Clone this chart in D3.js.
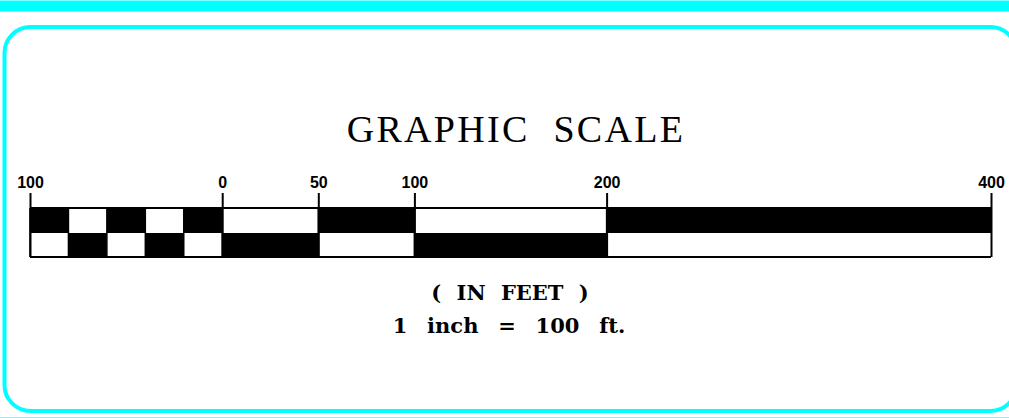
<!DOCTYPE html>
<html>
<head>
<meta charset="utf-8">
<script src="https://cdn.jsdelivr.net/npm/d3@7"></script>
<style>
html,body{margin:0;padding:0;background:#fff;overflow:hidden;}
svg{display:block;}
</style>
</head>
<body>
<svg id="chart" width="1009" height="418"></svg>
<script>
// ---- data ----
const tickValues = [-100, 0, 50, 100, 200, 400];
const tickLabels = ["100", "0", "50", "100", "200", "400"];
const segStarts = [-100, -80, -60, -40, -20, 0, 50, 100, 200];
const segEnds   = [-80, -60, -40, -20, 0, 50, 100, 200, 400];
const topRowBlack = [true, false, true, false, true, false, true, false, true];
const title = "GRAPHIC SCALE";
const unitLine = "( IN FEET )";
const ratioLine = "1 inch = 100 ft.";

const svg = d3.select("#chart");
const cyan = "#00ffff";

// frame
svg.append("rect").attr("x", 0).attr("y", 0.5).attr("width", 1009).attr("height", 11).attr("fill", cyan);
svg.append("rect").attr("x", 4.5).attr("y", 27).attr("width", 1012).attr("height", 384)
  .attr("rx", 26).attr("ry", 26).attr("fill", "none").attr("stroke", cyan).attr("stroke-width", 4);
svg.append("line").attr("x1", 0).attr("x2", 1009).attr("y1", 417.5).attr("y2", 417.5)
  .attr("stroke", cyan).attr("stroke-opacity", 0.6).attr("stroke-width", 1);

// scale
const x = d3.scaleLinear().domain([-100, 400]).range([30, 991]);
const yTop = 208, yMid = 233, yBot = 257;

const segs = segStarts.map((s, i) => ({s, e: segEnds[i], top: topRowBlack[i]}));
const g = svg.append("g");
g.selectAll("rect.top").data(segs).join("rect").attr("class", "top")
  .attr("x", d => x(d.s)).attr("width", d => x(d.e) - x(d.s))
  .attr("y", yTop).attr("height", yMid - yTop)
  .attr("fill", d => d.top ? "#000" : "#fff");
g.selectAll("rect.bot").data(segs).join("rect").attr("class", "bot")
  .attr("x", d => x(d.s)).attr("width", d => x(d.e) - x(d.s))
  .attr("y", yMid).attr("height", yBot - yMid)
  .attr("fill", d => d.top ? "#fff" : "#000");

// outline
g.append("line").attr("x1", x(-100)).attr("x2", x(400)).attr("y1", yTop).attr("y2", yTop).attr("stroke", "#000").attr("stroke-width", 2);
g.append("line").attr("x1", x(-100)).attr("x2", x(400)).attr("y1", yBot).attr("y2", yBot).attr("stroke", "#000").attr("stroke-width", 2);
g.selectAll("line.seg").data(segStarts).join("line").attr("class", "seg")
  .attr("x1", d => x(d)).attr("x2", d => x(d)).attr("y1", yTop).attr("y2", yBot)
  .attr("stroke", "#000").attr("stroke-width", 1.5);

// ticks via axis
const axis = d3.axisTop(x).tickValues(tickValues)
  .tickFormat((d, i) => tickLabels[i]).tickSizeInner(yBot - 193).tickSizeOuter(0);
const ag = svg.append("g").attr("transform", `translate(0,${yBot})`).call(axis);
ag.select(".domain").remove();
ag.selectAll(".tick line").attr("stroke", "#000").attr("stroke-width", 2);
ag.selectAll(".tick text")
  .attr("font-family", "'Liberation Sans', Arial, sans-serif")
  .attr("font-weight", "bold").attr("font-size", 16).attr("fill", "#000")
  .attr("dy", 0).attr("y", -(yBot - 188));

// texts
svg.append("text").attr("x", 516).attr("y", 142).attr("text-anchor", "middle")
  .attr("font-family", "'Liberation Serif', 'DejaVu Serif', serif")
  .attr("font-size", 38).attr("letter-spacing", 2.3).attr("word-spacing", 12)
  .attr("fill", "#000").text(title);
svg.append("text").attr("x", 510).attr("y", 300).attr("text-anchor", "middle")
  .attr("font-family", "'DejaVu Serif', 'Liberation Serif', serif").attr("font-weight", "bold")
  .attr("font-size", 21).attr("word-spacing", 8)
  .attr("fill", "#000").text(unitLine);
svg.append("text").attr("x", 509).attr("y", 333).attr("text-anchor", "middle")
  .attr("font-family", "'DejaVu Serif', 'Liberation Serif', serif").attr("font-weight", "bold")
  .attr("font-size", 21).attr("word-spacing", 12.5)
  .attr("fill", "#000").text(ratioLine);
</script>
</body>
</html>
